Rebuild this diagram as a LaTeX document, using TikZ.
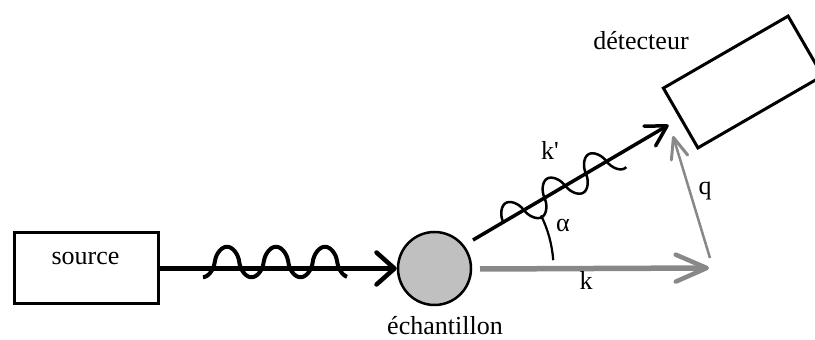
\documentclass[tikz,border=0pt]{standalone}
\usepackage{fontspec}
\setmainfont{Liberation Serif}
\usetikzlibrary{arrows.meta}
\definecolor{arrowgray}{RGB}{136,136,136}
\definecolor{samplegray}{RGB}{192,192,192}
\begin{document}
\begin{tikzpicture}[x=1pt,y=1pt,
  txt/.style={font=\fontsize{26}{30}\selectfont, inner sep=0pt, anchor=base},
  boxshape/.style={draw=black, line width=3pt, rectangle, inner sep=0pt},
  incoming/.style={line width=5.5pt, -{Straight Barb[length=18pt,width=32pt,line width=4.5pt 0,round]}},
  scattered/.style={line width=3.5pt, -{Straight Barb[length=20pt,width=23pt,line width=3.5pt 0,round]}},
  transfer/.style={draw=arrowgray, line width=5.5pt, -{Straight Barb[length=31pt,width=27pt,line width=4.5pt 0,round]}},
  qvec/.style={draw=arrowgray, line width=2.5pt, -{Straight Barb[length=21pt,width=17pt,line width=3pt 0,round]}},
  wavein/.style={line width=4pt, line join=round},
  waveout/.style={line width=2.5pt, line join=round},
]
\clip (0,0) rectangle (815,340);
% nodes
\node[boxshape, minimum width=144pt, minimum height=71pt] (source) at (86,71.5) {};
\node[txt] (sourcetxt) at (85.5,75) {source};
\node[draw=black, line width=2.5pt, circle, fill=samplegray, minimum size=73pt, inner sep=0pt] (sample) at (434.5,71.5) {};
\node[txt] (sampletxt) at (445,5) {échantillon};
\node[boxshape, minimum width=144pt, minimum height=69pt, rotate=30] (detector) at (743,258) {};
\node[txt] (detectortxt) at (641,290) {détecteur};
% coordinates
\coordinate (kpstart) at (473,100);
\coordinate (kpend) at (668.5,215);
\coordinate (kstart) at (480,71);
\coordinate (kend) at (709,72);
\coordinate (qstart) at (710,82);
\coordinate (qend) at (673,204);
% incoming beam
\draw[incoming] (source.east) -- (sample.west);
\draw[wavein] plot[domain=203:347, samples=150, smooth]
  (\x, {78 + 15.5*cos(7.3469*(\x-227))*pow(abs(cos(7.3469*(\x-227)))+0.04,-0.45)});
% k vector
\draw[transfer] (kstart) -- (kend);
% q vector
\draw[qvec] (qstart) -- (qend);
% scattered beam
\draw[scattered] (kpstart) -- (kpend);
\begin{scope}[shift={(kpstart)}, rotate=30.5]
\draw[waveout] plot[domain=35:169, samples=150, smooth]
  (\x, {15.5*sin(7.5*(\x-35))*pow(abs(sin(7.5*(\x-35)))+0.04,-0.45)});
\end{scope}
% angle arc
\draw[line width=2.2pt] (sample.center) ++(4:119) arc[start angle=4, end angle=26.5, radius=119];
% labels
\node[txt] (kplabel) at (550,180) {k\textquotesingle};
\node[txt] (alabel) at (563,108) {α};
\node[txt] (klabel) at (586,50) {k};
\node[txt] (qlabel) at (705,145) {q};
\end{tikzpicture}
\end{document}
